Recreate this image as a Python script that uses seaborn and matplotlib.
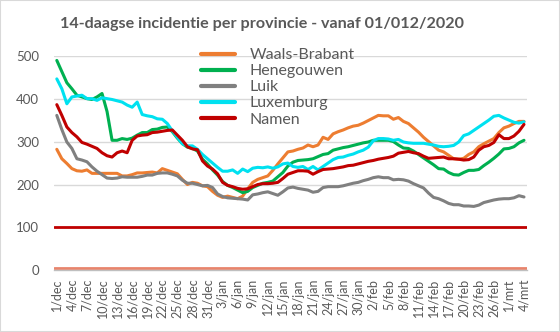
import numpy as np
import pandas as pd
import matplotlib
matplotlib.use("Agg")
import matplotlib.pyplot as plt
from matplotlib.patches import Rectangle
import seaborn as sns

title = "14-daagse incidentie per provincie - vanaf 01/012/2020"

tick_labels = ["1/dec", "4/dec", "7/dec", "10/dec", "13/dec", "16/dec", "19/dec", "22/dec",
               "25/dec", "28/dec", "31/dec", "3/jan", "6/jan", "9/jan", "12/jan", "15/jan",
               "18/jan", "21/jan", "24/jan", "27/jan", "30/jan", "2/feb", "5/feb", "8/feb",
               "11/feb", "14/feb", "17/feb", "20/feb", "23/feb", "26/feb", "1/mrt", "4/mrt"]

provinces = ["Waals-Brabant", "Henegouwen", "Luik", "Luxemburg", "Namen"]

waals_brabant = [282, 260, 249, 237, 232, 231, 234, 226, 226, 226, 226, 226, 226, 220, 220, 223, 227, 227, 228, 229, 227, 237, 233,
                 229, 225, 212, 200, 205, 203, 197, 195, 184, 175, 170, 173, 170, 167, 173, 190, 205, 212, 216, 220, 233, 248, 262, 276,
                 278, 282, 285, 292, 288, 292, 310, 305, 318, 323, 327, 332, 336, 338, 343, 349, 355, 361, 360, 360,
                 352, 356, 347, 342, 332, 322, 310, 300, 290, 280, 276, 268, 260, 259, 261, 270, 276, 288, 295, 301,
                 307, 321, 332, 336, 342, 347, 347]

henegouwen = [489, 463, 437, 423, 408, 404, 400, 398, 404, 412, 370, 303, 303, 307, 305, 308, 315, 321, 321, 328, 329, 333, 334,
              323, 308, 295, 287, 284, 278, 259, 248, 234, 222, 207, 198, 193, 187, 181, 184, 193, 198, 203, 205, 208,
              218, 228, 243, 252, 256, 257, 258, 260, 265, 270, 272, 280, 283, 286, 288, 291, 294, 297, 299, 303, 303, 303, 303, 300, 292, 285,
              284, 278, 270, 262, 254, 246, 237, 236, 228, 223, 222, 228, 233, 233, 235, 244, 252, 261, 271, 283, 284, 288, 297, 303]

luik = [361, 328, 299, 284, 260, 257, 253, 241, 231, 223, 215, 214, 215, 218, 217, 217, 217, 219, 222, 222, 226, 227, 227,
        224, 220, 210, 203, 203, 200, 197, 198, 193, 178, 172, 169, 168, 167, 166, 164, 176, 178, 181, 183, 179, 175, 183, 192,
        194, 191, 189, 187, 182, 184, 193, 195, 195, 195, 197, 200, 203, 205, 209, 212, 216, 218, 216, 216,
        211, 212, 211, 208, 202, 197, 192, 180, 170, 167, 162, 156, 153, 153, 150, 150, 149, 152, 158, 161,
        164, 166, 167, 167, 169, 174, 171]

luxemburg = [446, 423, 388, 404, 406, 408, 400, 400, 396, 402, 400, 398, 395, 392, 385, 380, 392, 363, 360, 358, 353, 352, 342,
             325, 310, 295, 290, 290, 282, 270, 260, 250, 240, 231, 231, 234, 226, 236, 230, 238, 240, 239, 241, 238, 241, 248, 250,
             242, 240, 242, 235, 242, 234, 242, 250, 258, 263, 264, 268, 271, 276, 280, 287, 302, 307, 307, 306, 303, 305, 299,
             297, 296, 296, 296, 294, 292, 289, 288, 289, 291, 299, 314, 318, 326, 334, 342, 350, 359, 361, 355, 350, 345, 343, 346]

namen = [386, 361, 334, 321, 311, 298, 294, 289, 284, 274, 267, 264, 274, 278, 274, 303, 313, 315, 316, 321, 322, 324, 326,
         327, 315, 303, 288, 283, 281, 255, 243, 236, 225, 205, 198, 195, 191, 189, 190, 195, 200, 202, 202, 203, 205, 214,
         224, 228, 232, 232, 231, 224, 230, 235, 236, 237, 239, 241, 244, 245, 248, 251, 254, 256, 259, 261, 263, 266, 273, 275,
         277, 274, 272, 266, 261, 262, 263, 264, 260, 260, 259, 257, 258, 264, 280, 288, 291, 298, 316, 307, 307, 313, 324, 340]

threshold_red = 100
threshold_low = 6

colors = ["#ED7D31", "#00B050", "#808080", "#00E1F0", "#C00000"]

series = [waals_brabant, henegouwen, luik, luxemburg, namen]
n_days = len(waals_brabant)
df = pd.concat([pd.DataFrame({"dag": np.arange(len(v)), "incidentie": v, "provincie": p})
                for p, v in zip(provinces, series)], ignore_index=True)

sns.set_style("white")
plt.rcParams["font.family"] = ["Lato", "DejaVu Sans"]

fig = plt.figure(figsize=(5.6, 3.32), dpi=100)
ax = fig.add_axes([54.3 / 560, 1 - 270.4 / 332, (526.5 - 54.3) / 560, (270.4 - 55.7) / 332])

ax.axhline(threshold_red, color="#C00000", lw=2.0, zorder=2)
ax.axhline(threshold_low, color="#E8846C", lw=2.0, zorder=2)

sns.lineplot(data=df, x="dag", y="incidentie", hue="provincie", hue_order=provinces,
             palette=colors, linewidth=2.2, ax=ax, legend=True, zorder=3)

ax.set_xlim(-0.5, n_days - 0.5)
ax.set_ylim(0, 500)
ax.set_yticks([0, 100, 200, 300, 400, 500])
ax.yaxis.grid(True, color="#D9D9D9", lw=1.0)
ax.set_axisbelow(True)
ax.set_xlabel("")
ax.set_ylabel("")

ax.set_xticks(np.arange(0, n_days, 3))
ax.set_xticklabels(tick_labels, rotation=90)
ax.set_xticks(list(np.arange(-0.5, n_days, 3)) + [n_days - 0.5], minor=True)
ax.tick_params(axis="x", which="major", length=0, pad=6, labelsize=9, labelcolor="#595959")
ax.tick_params(axis="x", which="minor", length=4, color="#BFBFBF", width=1, direction="out")
ax.tick_params(axis="y", length=0, pad=11, labelsize=9.5, labelcolor="#595959")

for s in ["top", "right", "left"]:
    ax.spines[s].set_visible(False)
ax.spines["bottom"].set_color("#BFBFBF")
ax.spines["bottom"].set_linewidth(1)

handles, labels = ax.get_legend_handles_labels()
leg = ax.legend(handles, labels, loc="upper left", bbox_to_anchor=(201 / 560, 1 - 48 / 332),
                bbox_transform=fig.transFigure, frameon=False, fontsize=11.5,
                handlelength=2.1, handletextpad=0.95, labelspacing=0.12, borderpad=0,
                borderaxespad=0)
for t in leg.get_texts():
    t.set_color("#595959")
for h in leg.get_lines():
    h.set_linewidth(3)

fig.text(262 / 560, 1 - 24 / 332, title, ha="center", va="center", fontsize=11.6,
         fontweight="bold", color="#595959")

fig.patches.append(Rectangle((0, 0), 1, 1, transform=fig.transFigure, fill=False,
                             edgecolor="#D9D9D9", lw=1.5))

fig.savefig("out.png", dpi=100)
